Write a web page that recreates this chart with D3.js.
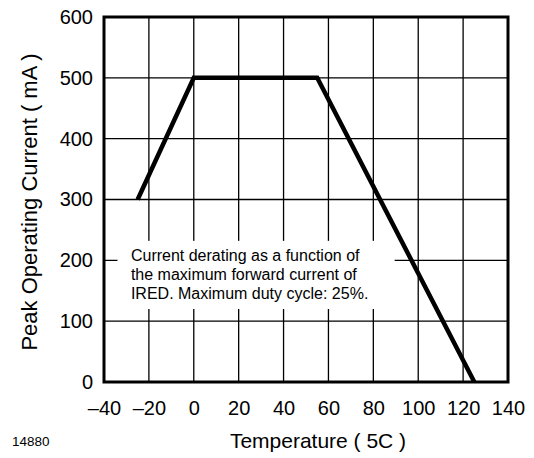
<!DOCTYPE html>
<html>
<head>
<meta charset="utf-8">
<script src="https://cdn.jsdelivr.net/npm/d3@7"></script>
<style>
  body { margin: 0; background: #fff; }
  text { font-family: "Liberation Sans", Arial, sans-serif; fill: #000; }
</style>
</head>
<body>
<div id="chart"></div>
<script>
// derating curve (temperature in deg C, current in mA)
const temps = [-25, 0, 55, 125];
const currents = [300, 500, 500, 0];
const xTicks = [-40, -20, 0, 20, 40, 60, 80, 100, 120, 140];
const yTicks = [0, 100, 200, 300, 400, 500, 600];
const noteLines = [
  "Current derating as a function of",
  "the maximum forward current of",
  "IRED. Maximum duty cycle: 25%."
];

const margin = { top: 17, right: 26, bottom: 76, left: 104 },
    width = 534 - margin.left - margin.right,
    height = 458 - margin.top - margin.bottom;

const svg = d3.select("#chart")
    .append("svg")
    .attr("width", 534)
    .attr("height", 458);

const g = svg.append("g")
    .attr("transform", `translate(${margin.left},${margin.top})`);

const x = d3.scaleLinear().domain([-40, 140]).range([0, width]);
const y = d3.scaleLinear().domain([0, 600]).range([height, 0]);

// grid
g.append("g").selectAll("line").data(xTicks.slice(1, -1)).join("line")
    .attr("x1", d => x(d)).attr("x2", d => x(d))
    .attr("y1", 0).attr("y2", height)
    .attr("stroke", "#000").attr("stroke-width", 1.3);
g.append("g").selectAll("line").data(yTicks.slice(1, -1)).join("line")
    .attr("y1", d => y(d)).attr("y2", d => y(d))
    .attr("x1", 0).attr("x2", width)
    .attr("stroke", "#000").attr("stroke-width", 1.3);

// note box covers the grid
const noteX = x(-34), noteY = y(232);
g.append("rect")
    .attr("x", noteX).attr("y", noteY)
    .attr("width", x(89.5) - noteX).attr("height", y(120) - noteY)
    .attr("fill", "#fff");
g.append("g").selectAll("text").data(noteLines).join("text")
    .attr("x", x(-28))
    .attr("y", (d, i) => noteY + 20 + i * 19)
    .attr("font-size", "16px")
    .text(d => d);

// frame
g.append("rect")
    .attr("x", 0).attr("y", 0).attr("width", width).attr("height", height)
    .attr("fill", "none").attr("stroke", "#000").attr("stroke-width", 3);

// curve
const line = d3.line().x(d => x(d[0])).y(d => y(d[1]));
g.append("path")
    .datum(temps.map((t, i) => [t, currents[i]]))
    .attr("d", line)
    .attr("fill", "none")
    .attr("stroke", "#000")
    .attr("stroke-width", 4.5)
    .attr("stroke-linejoin", "miter");

// axes
const fmt = d => d < 0 ? "\u2013" + Math.abs(d) : String(d);
const xAxis = g.append("g")
    .attr("transform", `translate(0,${height})`)
    .call(d3.axisBottom(x).tickValues(xTicks).tickSize(0).tickPadding(19).tickFormat(fmt));
const yAxis = g.append("g")
    .call(d3.axisLeft(y).tickValues(yTicks).tickSize(0).tickPadding(11).tickFormat(fmt));
[xAxis, yAxis].forEach(a => {
  a.select(".domain").remove();
  a.selectAll("text").attr("font-size", "20px").attr("font-family", "Liberation Sans, Arial, sans-serif");
});

// titles
svg.append("text")
    .attr("x", 318).attr("y", 448)
    .attr("text-anchor", "middle").attr("font-size", "21px")
    .text("Temperature ( 5C )");
svg.append("text")
    .attr("transform", "translate(37,202) rotate(-90)")
    .attr("text-anchor", "middle").attr("font-size", "22px")
    .text("Peak Operating Current ( mA )");
svg.append("text")
    .attr("x", 12).attr("y", 446)
    .attr("font-size", "13.5px")
    .text("14880");
</script>
</body>
</html>
